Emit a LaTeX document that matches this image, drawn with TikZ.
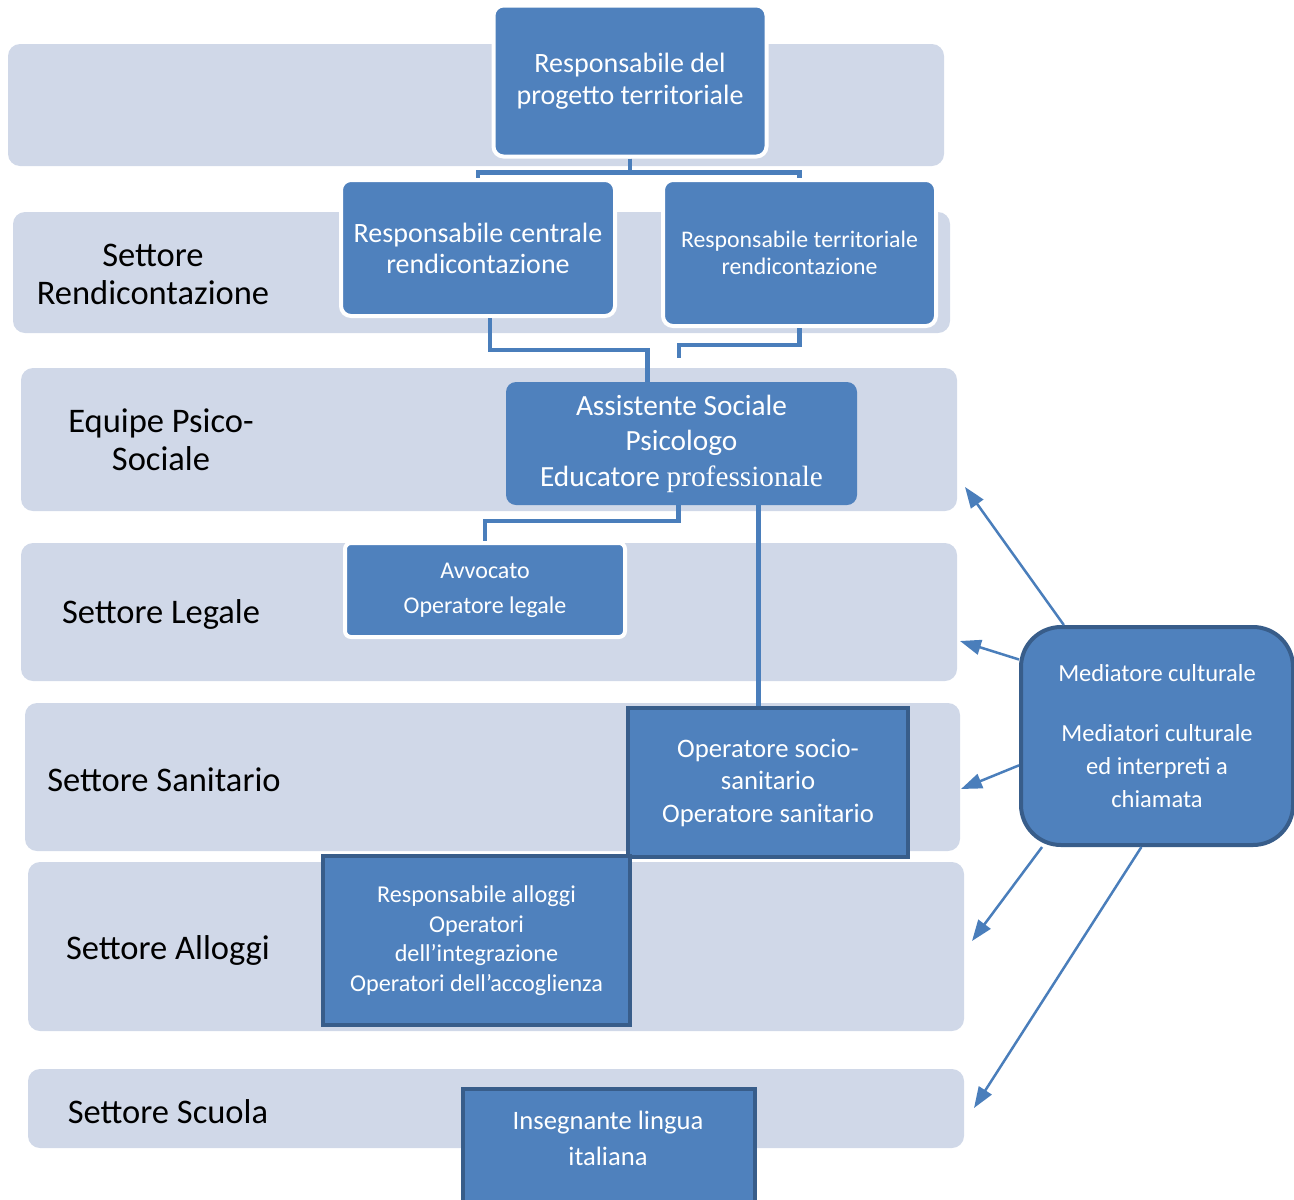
\documentclass[tikz,border=0pt]{standalone}
\usepackage{fontspec}
\setmainfont{Carlito}
\newfontfamily\serfont{Liberation Serif}
\usetikzlibrary{arrows.meta}
\definecolor{bandfill}{HTML}{D0D8E8}
\definecolor{boxfill}{HTML}{4F81BD}
\definecolor{boxedge}{HTML}{385D8A}
\definecolor{linkcol}{HTML}{4A7EBB}
\tikzset{
  band/.style={fill=bandfill, rounded corners=12pt},
  bandlabel/.style={align=center, font=\fontsize{34.5}{38}\selectfont},
  role/.style={fill=boxfill, text=white, align=center, inner sep=0pt},
  roundrole/.style={role, draw=white, line width=4pt, rounded corners=10pt},
  squarerole/.style={role, draw=boxedge, line width=4pt},
  link/.style={draw=linkcol, line width=4.5pt},
  callarrow/.style={draw=linkcol, line width=2.5pt, -{Triangle[length=21pt,width=15pt]}},
}
\begin{document}
\begin{tikzpicture}[x=1pt, y=-1pt]
    \useasboundingbox (0,0) rectangle (1294,1200);

    % Sector bands
    \foreach \xa/\ya/\xb/\yb in {8/44/944/166, 13/212/950/333, 21/368/957/511,
        21/543/957/681, 25/703/960/851, 28/862/964/1031, 28/1069/964/1148} {
      \path [band] (\xa,\ya) rectangle (\xb,\yb);
    }
    \node [bandlabel] (lblrend) at (153,274) {Settore\\Rendicontazione};
    \node [bandlabel] (lblequipe) at (161,440) {Equipe Psico-\\Sociale};
    \node [bandlabel] (lbllegale) at (161,614) {Settore Legale};
    \node [bandlabel] (lblsanit) at (164,780) {Settore Sanitario};
    \node [bandlabel] (lblalloggi) at (168,950) {Settore Alloggi};
    \node [bandlabel] (lblscuola) at (168,1112) {Settore Scuola};

    % Roles
    \node [roundrole, minimum width=273, minimum height=151,
           font=\fontsize{28}{32}\selectfont] (resp) at (630,81)
          {Responsabile del\\progetto territoriale};
    \node [roundrole, minimum width=274, minimum height=136,
           font=\fontsize{28}{31}\selectfont] (central) at (478,248)
          {Responsabile centrale\\rendicontazione};
    \node [roundrole, minimum width=273, minimum height=146,
           font=\fontsize{23.8}{27}\selectfont] (territ) at (799.5,253)
          {Responsabile territoriale\\rendicontazione};
    \node [role, rounded corners=10pt, minimum width=351, minimum height=123,
           font=\fontsize{29.3}{35.5}\selectfont] (psico) at (681.5,443.5)
          {Assistente Sociale\\Psicologo\\Educatore {\serfont professionale}};
    \node [roundrole, rounded corners=6pt, minimum width=280, minimum height=94,
           font=\fontsize{24}{35}\selectfont] (legal) at (485,590)
          {Avvocato\\Operatore legale};
    \node [squarerole, minimum width=280, minimum height=149,
           font=\fontsize{26.7}{32.5}\selectfont] (sanit) at (768,782.5)
          {Operatore socio-\\sanitario\\Operatore sanitario};
    \node [squarerole, minimum width=307, minimum height=169,
           font=\fontsize{24.2}{29.5}\selectfont] (alloggi) at (476.5,940.5)
          {Responsabile alloggi\\Operatori\\dell’integrazione\\Operatori dell’accoglienza};
    \node [squarerole, minimum width=292, minimum height=150] (scuola) at (609,1164) {};
    \node [align=center, text=white, font=\fontsize{26.6}{36}\selectfont]
          (scuolatxt) at (608,1138) {Insegnante lingua\\italiana};
    \node [role, draw=boxedge, line width=4pt, rounded corners=40pt,
           minimum width=272, minimum height=218,
           font=\fontsize{24.5}{33}\selectfont] (med) at (1157,736)
          {Mediatore culturale\\[27pt]Mediatori culturale\\ed interpreti a\\chiamata};

    % Connections
    \draw [link] (resp.south) -- ++(0,14) -| (central.north);
    \draw [link] (resp.south) -- ++(0,14) -| (territ.north);
    \draw [link] ([xshift=12pt]central.south) -- ++(0,32) -| ([xshift=-34pt]psico.north);
    \coordinate (stub) at (679,358);
    \draw [link] (territ.south) -- ++(0,17) -| (stub);
    \draw [link] ([xshift=-3pt]psico.south) -- ++(0,16) -| (legal.north);
    \draw [link] ([xshift=77pt]psico.south) -- ([xshift=77pt]psico.south |- sanit.north);

    % Mediator arrows
    \coordinate (toequipe) at (965,487);
    \coordinate (tolegale) at (960,641);
    \coordinate (tosanit) at (961,789);
    \coordinate (toalloggi) at (972,941);
    \coordinate (toscuola) at (974,1108);
    \draw [callarrow] (med.130) -- (toequipe);
    \draw [callarrow] (med.151) -- (tolegale);
    \draw [callarrow] (med.192) -- (tosanit);
    \draw [callarrow] (med.224) -- (toalloggi);
    \draw [callarrow] (med.262.7) -- (toscuola);
\end{tikzpicture}
\end{document}
